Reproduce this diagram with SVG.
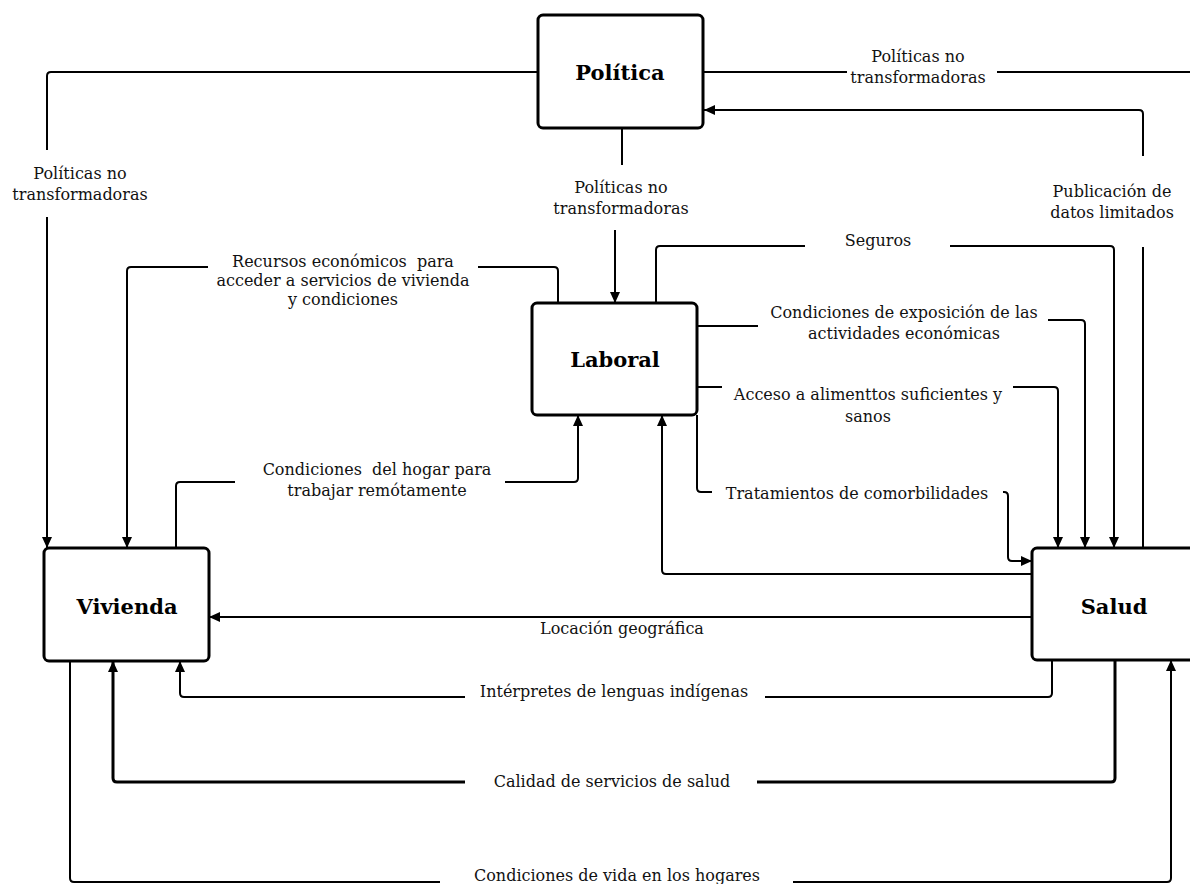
<svg xmlns="http://www.w3.org/2000/svg" width="1190" height="884" viewBox="0 0 1190 884">
<defs>
<marker id="ah" markerUnits="userSpaceOnUse" markerWidth="11" markerHeight="10" refX="11" refY="5" orient="auto">
<path d="M0,0 L11,5 L0,10 z" fill="#000"/>
</marker>
<style>
.box{fill:#fff;stroke:#000;stroke-width:3}
.nt{font-family:"DejaVu Serif","Liberation Serif",serif;font-weight:bold;font-size:21px;text-anchor:middle;fill:#000}
.lt{font-family:"DejaVu Serif","Liberation Serif",serif;font-size:16px;text-anchor:middle;fill:#111}
.c{fill:none;stroke:#000;stroke-width:2}
.ca{fill:none;stroke:#000;stroke-width:2;marker-end:url(#ah)}
.thick{stroke-width:3}
</style>
</defs>
<rect width="1190" height="884" fill="#fff"/>
<g id="connectors">
<path class="c" d="M538,72 H51 Q47,72 47,76 V150"/>
<path class="ca" d="M47,217 V548"/>
<path class="c" d="M703,72 H847"/>
<path class="c" d="M997,72 H1190"/>
<path class="c" d="M1143,548 V247"/>
<path class="ca" d="M1143,156 V114 Q1143,110 1139,110 H704"/>
<path class="c" d="M622,128 V165"/>
<path class="ca" d="M615,230 V303"/>
<path class="c" d="M656,303 V250 Q656,246 660,246 H805"/>
<path class="ca" d="M950,246 H1110 Q1114,246 1114,250 V548"/>
<path class="c" d="M697,326 H758"/>
<path class="ca" d="M1048,320 H1081 Q1085,320 1085,324 V548"/>
<path class="c" d="M697,387 H722"/>
<path class="ca" d="M1013,387 H1054 Q1058,387 1058,391 V548"/>
<path class="c" d="M697,415 V488 Q697,492 701,492 H712"/>
<path class="ca" d="M1003,492 H1004 Q1008,492 1008,496 V557 Q1008,561 1012,561 H1032"/>
<path class="ca" d="M1032,574 H666 Q662,574 662,570 V415"/>
<path class="c" d="M176,548 V486 Q176,482 180,482 H235"/>
<path class="ca" d="M505,482 H574 Q578,482 578,478 V415"/>
<path class="c" d="M558,303 V271 Q558,267 554,267 H478"/>
<path class="ca" d="M208,267 H131 Q127,267 127,271 V548"/>
<path class="ca" d="M1032,617 H209"/>
<path class="c" d="M1052,660 V693 Q1052,697 1048,697 H765"/>
<path class="ca" d="M465,697 H184 Q180,697 180,693 V661"/>
<path class="c thick" d="M1115,660 V778 Q1115,782 1111,782 H757"/>
<path class="ca thick" d="M465,782 H117 Q113,782 113,778 V661"/>
<path class="c" d="M70,661 V878 Q70,882 74,882 H440"/>
<path class="ca" d="M793,882 H1167 Q1171,882 1171,878 V660"/>
</g>
<g id="labels">
<text class="lt" x="80" y="179">Políticas no</text>
<text class="lt" x="80" y="200">transformadoras</text>
<text class="lt" x="918" y="62">Políticas no</text>
<text class="lt" x="918" y="83">transformadoras</text>
<text class="lt" x="621" y="193">Políticas no</text>
<text class="lt" x="621" y="214">transformadoras</text>
<text class="lt" x="1112" y="197">Publicación de</text>
<text class="lt" x="1112" y="218">datos limitados</text>
<text class="lt" x="878" y="246">Seguros</text>
<text class="lt" x="343" y="267" xml:space="preserve">Recursos económicos  para</text>
<text class="lt" x="343" y="286">acceder a servicios de vivienda</text>
<text class="lt" x="343" y="305">y condiciones</text>
<text class="lt" x="904" y="318">Condiciones de exposición de las</text>
<text class="lt" x="904" y="339">actividades económicas</text>
<text class="lt" x="868" y="400">Acceso a alimenttos suficientes y</text>
<text class="lt" x="868" y="422">sanos</text>
<text class="lt" x="857" y="499">Tratamientos de comorbilidades</text>
<text class="lt" x="377" y="475" xml:space="preserve">Condiciones  del hogar para</text>
<text class="lt" x="377" y="496">trabajar remótamente</text>
<text class="lt" x="622" y="634">Locación geográfica</text>
<text class="lt" x="614" y="697">Intérpretes de lenguas indígenas</text>
<text class="lt" x="612" y="787">Calidad de servicios de salud</text>
<text class="lt" x="617" y="881">Condiciones de vida en los hogares</text>
</g>
<g id="node-politica">
<rect class="box" x="538" y="15" width="165" height="113" rx="5"/>
<text class="nt" x="620" y="80">Política</text>
</g>
<g id="node-laboral">
<rect class="box" x="532" y="303" width="165" height="112" rx="5"/>
<text class="nt" x="615" y="367">Laboral</text>
</g>
<g id="node-vivienda">
<rect class="box" x="44" y="548" width="165" height="113" rx="5"/>
<text class="nt" x="127" y="614">Vivienda</text>
</g>
<g id="node-salud">
<rect class="box" x="1032" y="548" width="165" height="112" rx="5"/>
<text class="nt" x="1114" y="614">Salud</text>
</g>
</svg>
